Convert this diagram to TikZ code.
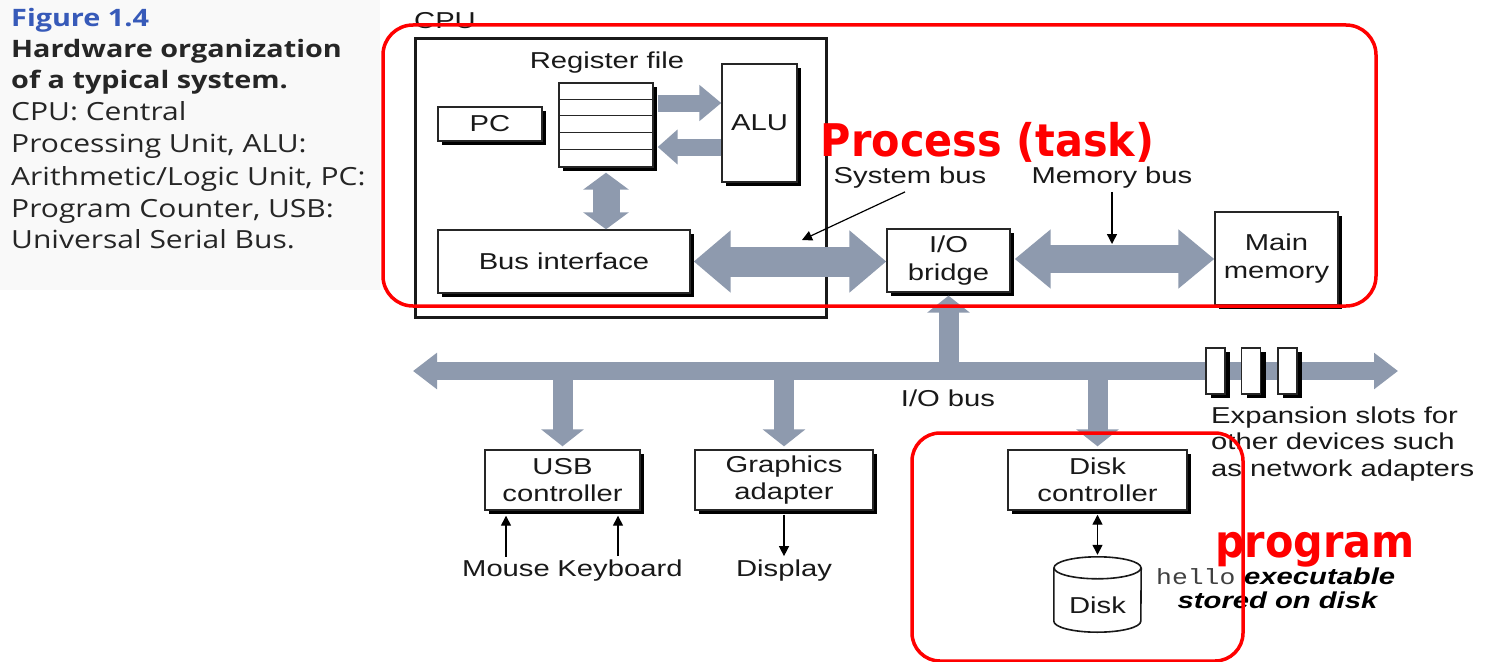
\documentclass[tikz,border=0pt]{standalone}
\usepackage{fontspec}
\usetikzlibrary{arrows.meta,shadows,calc}
\setmainfont{Liberation Sans}
\newfontfamily\hv{Liberation Sans}[FakeStretch=1.27]
\newfontfamily\capf{Open Sans}[FakeStretch=1.2]
\newfontfamily\redf{DejaVu Sans}[FakeStretch=0.92]
\newfontfamily\monof{Liberation Mono}[FakeStretch=1.2]
\definecolor{busgray}{RGB}{142,154,174}
\definecolor{figblue}{RGB}{55,90,185}
\definecolor{annred}{RGB}{255,0,0}
\tikzset{
  lbl/.style={font=\hv\fontsize{23}{27}\selectfont, inner sep=0pt, text=black!90},
  bx/.style={draw=black!85, line width=1.4pt, fill=white, inner sep=0pt, align=center,
     font=\hv\fontsize{23}{27.5}\selectfont, text=black!90,
     drop shadow={shadow xshift=4pt, shadow yshift=-4pt, fill=black, opacity=1}},
  slot/.style={draw=black!85, line width=1.4pt, fill=white, inner sep=0pt,
     minimum width=19pt, minimum height=46pt,
     drop shadow={shadow xshift=5pt, shadow yshift=-4pt, fill=black, opacity=1}},
  fat/.style n args={3}{draw=busgray, line width=#1, line cap=butt, -{Triangle[width=#2,length=#3]}},
  fatd/.style n args={3}{draw=busgray, line width=#1, line cap=butt, {Triangle[width=#2,length=#3]}-{Triangle[width=#2,length=#3]}},
  thinarr/.style={draw=black, line width=1.4pt, -{Triangle[width=10pt,length=10pt]}},
  thind/.style={draw=black, line width=1.4pt, {Triangle[width=10pt,length=10pt]}-{Triangle[width=10pt,length=10pt]}},
  capline/.style={anchor=base west, inner sep=0pt, font=\capf\fontsize{25}{30}\selectfont, text=black!85},
  redtxt/.style={anchor=base, inner sep=0pt, text=annred, font=\redf\bfseries\fontsize{45}{45}\selectfont},
  redbox/.style={draw=annred, line width=3.5pt},
}
\begin{document}
\begin{tikzpicture}[x=1pt, y=-1pt]
\useasboundingbox (0,0) rectangle (1487,661);
\clip (0,0) rectangle (1487,661);
\fill[white] (0,0) rectangle (1487,661);
\fill[black!2.5] (0,0) rectangle (380,290);

% caption
\node[capline, text=figblue, font=\capf\bfseries\fontsize{24}{30}\selectfont] (fig) at (11,27) {Figure 1.4};
\node[capline, font=\capf\bfseries\fontsize{24}{30}\selectfont] (c1) at (11,57) {Hardware organization};
\node[capline, font=\capf\bfseries\fontsize{24}{30}\selectfont] (c2) at (11,88) {of a typical system.};
\node[capline] (c3) at (11,120) {CPU: Central};
\node[capline] (c4) at (11,152) {Processing Unit, ALU:};
\node[capline] (c5) at (11,185) {Arithmetic/Logic Unit, PC:};
\node[capline] (c6) at (11,217) {Program Counter, USB:};
\node[capline] (c7) at (11,248) {Universal Serial Bus.};

% CPU
\node[draw=black!90, line width=3pt, minimum width=411pt, minimum height=278pt, inner sep=0pt] (cpu) at (620.5,178) {};
\node[lbl] (cpul) at (445,21) {CPU};
\node[lbl] (rfl) at (607,63) {Register file};
\node[bx, minimum width=94pt, minimum height=84pt] (rf) at (606,125) {};
\foreach \i in {1,...,4}
  \draw[line width=1pt, black!85] ([yshift={-\i*16.8pt}]rf.north west) -- ([yshift={-\i*16.8pt}]rf.north east);
\node[bx, minimum width=104pt, minimum height=34pt] (pc) at (490,124) {PC};
\node[bx, minimum width=75pt, minimum height=118pt] (alu) at (759.5,123) {ALU};
\node[bx, minimum width=252pt, minimum height=63pt] (bi) at (564,261.5) {Bus interface};

\draw[fat={17pt}{35pt}{22pt}] ([yshift=22pt,xshift=4pt]rf.east) -- ([yshift=22pt]rf.east -| alu.west);
\draw[fat={17pt}{34pt}{20pt}] ([yshift=-22pt]rf.east -| alu.west) -- ([yshift=-22pt,xshift=4pt]rf.east);
\draw[fatd={27pt}{45pt}{17pt}] ([yshift=-5pt]rf.south) -- (rf.south |- bi.north);

% bridge and memory
\node[bx, minimum width=123pt, minimum height=63pt] (iob) at (948.5,260.5) {I/O\\bridge};
\node[bx, minimum width=123pt, minimum height=93pt] (mm) at (1276.5,258.5) {Main\\memory};
\draw[fatd={30pt}{60pt}{37pt}] ([xshift=3pt]bi.east) -- (bi.east -| iob.west);
\draw[fatd={28pt}{57pt}{36pt}] ([xshift=4pt,yshift=1.5pt]iob.east) -- ([yshift=1.5pt]iob.east -| mm.west);

\node[lbl] (sbl) at (910,178) {System bus};
\node[lbl] (mbl) at (1112,178) {Memory bus};
\coordinate (sbtip) at (802,240);
\coordinate (mbtip) at (1112,244);
\draw[thinarr, line width=1.2pt] ([xshift=-5pt,yshift=-3pt]sbl.south) -- (sbtip);
\draw[thinarr] ([yshift=-3pt]mbl.south) -- (mbl.south |- mbtip);

% I/O bus
\coordinate (busL) at (413,371);
\coordinate (busR) at (1398,371);
\draw[fatd={18pt}{35pt}{24pt}] (busL) -- (busR);
\draw[fat={20pt}{42pt}{17pt}] (iob.south |- busL) -- ([yshift=-3pt]iob.south);
\node[lbl] (iobus) at (948,398) {I/O bus};

\node[slot] (s1) at (1215.5,371) {};
\node[slot] (s2) at (1251,371) {};
\node[slot] (s3) at (1287.5,371) {};
\node[lbl, anchor=west, align=left, font=\hv\fontsize{23}{26.5}\selectfont] (exp) at (1211,444) {Expansion slots for\\other devices such\\as network adapters};

% controllers
\node[bx, minimum width=155pt, minimum height=60pt] (usb) at (562.5,480) {USB\\controller};
\node[bx, minimum width=178pt, minimum height=60pt] (ga) at (784,480) {Graphics\\adapter};
\node[bx, minimum width=179pt, minimum height=60pt] (dc) at (1097.5,480) {Disk\\controller};
\draw[fat={20pt}{42pt}{17pt}] (usb.north |- busL) -- ([yshift=3pt]usb.north);
\draw[fat={20pt}{42pt}{17pt}] (ga.north |- busL) -- ([yshift=3pt]ga.north);
\draw[fat={20pt}{42pt}{17pt}] (dc.north |- busL) -- ([yshift=3pt]dc.north);

\node[lbl, anchor=base] (mouse) at (506,576) {Mouse};
\node[lbl, anchor=base] (kbd) at (620,576) {Keyboard};
\node[lbl, anchor=base] (disp) at (784,576) {Display};
\draw[thinarr] ([yshift=3pt]mouse.north) -- ($(usb.south -| mouse.north)+(0,5)$);
\draw[thinarr] ([yshift=3pt,xshift=-2pt]kbd.north) -- ($(usb.south -| kbd.north)+(-2,5)$);
\draw[thinarr] ($(ga.south)+(0,4)$) -- ([yshift=3pt]disp.north);

% disk
\node[inner sep=0pt, minimum width=87pt, minimum height=75pt] (disk) at (1097.5,594.5) {};
\draw[line width=1.6pt, black!90] ([yshift=-11pt]disk.north west) -- ([yshift=11pt]disk.south west)
   arc[start angle=180, end angle=360, x radius=43.5pt, y radius=11pt]
   -- ([yshift=-11pt]disk.north east);
\draw[line width=1.6pt, black!90] ([yshift=-11pt]disk.north) ellipse[x radius=43.5pt, y radius=11pt];
\node[lbl] (diskl) at (1097.5,605) {Disk};
\draw[thind] ($(dc.south)+(0,4)$) -- ([yshift=2pt]disk.north);

\node[anchor=base west, inner sep=0pt, font=\monof\fontsize{22}{22}\selectfont, text=black!75] (hello) at (1156,584) {hello};
\node[anchor=base west, inner sep=0pt, font=\hv\bfseries\itshape\fontsize{23}{23}\selectfont] (exe) at (1244,584) {executable};
\node[anchor=base, inner sep=0pt, font=\hv\bfseries\itshape\fontsize{23}{23}\selectfont] (stored) at (1277.5,608) {stored on disk};

% annotations
\node[redtxt] (proc) at (987.5,156) {Process (task)};
\node[redtxt] (prog) at (1315,557) {program};
\draw[redbox, rounded corners=30pt] (383,25) rectangle (1376,306);
\draw[redbox, rounded corners=28pt] (912,433) rectangle (1243,661);
\end{tikzpicture}
\end{document}
